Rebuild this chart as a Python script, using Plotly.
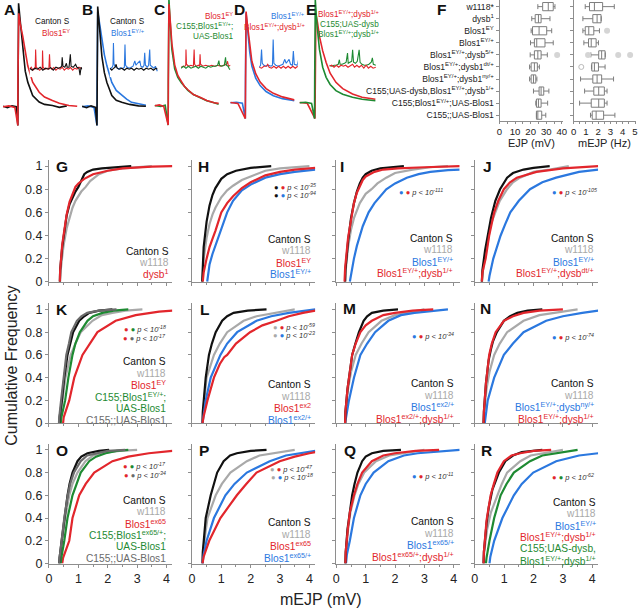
import plotly.graph_objects as go

# ====================== DATA ======================
# Panels A-E : evoked EJP traces  (time ms, mV relative to baseline)
A_CANTON = [(-10,0.2),(-7,-0.3),(-4,0.3),(-1,0),(0,-6.3),(0.1,10),(0.5,34.9),(1.6,29),(3.3,19.3),(5,12),(6.7,8.3),(10,3.8),(14.4,1.6),(18,0.8),(23.3,0.4),(28,-0.2),(33,0.3)]
A_BLOS1EY = [(-10,0),(-6,0.3),(-2,-0.2),(0,-6.3),(0.1,10),(0.6,31.5),(1.6,28),(3.3,23.8),(6.7,13.8),(10,8.3),(14.4,4.9),(18,3.3),(23.3,2.1),(28,1.2),(34.4,0.4),(40,0.2)]
B_CANTON = [(-10,0.2),(-7,-0.3),(-4,0.3),(-1,-0.2),(0,-6.3),(0.1,8),(0.5,33.8),(1.5,28),(3.3,17.1),(5,11.5),(6.7,8.2),(10,3.8),(13,2.2),(16.7,1.5),(22,0.8),(28,0.3),(33,0.2)]
B_BLOS1EYP = [(-10,0),(-6,0.3),(-2,-0.2),(0,-6.3),(0.1,8),(0.5,32),(1.5,29),(3.3,22.7),(5,17.5),(6.7,13.8),(10,8.2),(13,5.5),(16.7,3.8),(20,2.6),(23.3,1.5),(28,0.9),(33,0.5)]
C_BLOS1EY = [(-9,0),(-6,0.3),(-3,-0.2),(0,-6.5),(0.1,8),(0.5,34.3),(1.5,28),(2.5,21),(4.4,13.8),(6.5,10.2),(8.9,8.2),(11,6.5),(13.3,5.4),(17,3.8),(22.2,2.7),(26,1.8),(31,1),(34,0.8)]
C_RESCUE = [(-9,0.1),(-5,-0.2),(-2,0.2),(0,-6.5),(0.1,8),(0.5,36),(1.5,27),(2.5,19),(4.4,12.5),(6.5,9.6),(8.9,7.8),(11,6.4),(13.3,5.2),(17,3.8),(22.2,2.5),(26,1.7),(31,1),(34,0.5)]
D_BLOS1EYP = [(-10,0),(-6,0.2),(-2,-0.1),(0,-5.3),(0.1,8),(0.5,30.2),(1.5,25),(3,17),(4.4,12.4),(7,8.3),(10,5.8),(14,3.8),(18.9,2.4),(25,1.4),(32.2,0.8),(33,0.7)]
D_DOUBLE = [(-10,0.1),(-5,-0.2),(0,-5.3),(0.1,8),(0.5,30.8),(1.5,26),(3,18.5),(4.4,14),(7,9.8),(10,7),(14,4.8),(18.9,3.2),(25,2),(32.2,1.1),(33,1)]
E_DOUBLE = [(-10,0.1),(-5,-0.1),(0.3,-5.3),(0.4,8),(0.9,30),(2,27),(3.3,22.4),(5.5,17.5),(7.8,13.6),(10.5,10),(14.4,6.9),(19,4.8),(25.6,3),(32,1.9),(38.9,1.3),(41,1.2)]
E_RESCUE = [(-10,0),(-6,0.2),(-2,-0.2),(0,-5.3),(0.1,8),(0.5,34.7),(1.5,27),(3.3,18),(5.5,12),(7.8,8.6),(10.5,6.2),(14.4,4.1),(19,2.9),(25.6,1.9),(32,1.2),(38.9,0.8),(41,0.7)]

# Insets : spontaneous mEJP traces (time ms, mV)
A_CANTON_MINI = [(0,0.05),(10,-0.05),(20,0.05),(30,0),(40,0.1),(50,-0.05),(60,0.05),(70,0),(80,0.08),(90,-0.05),(100,0.1),(110,0.05),(118,0.1),(122,0.15),(124,0.6),(127,0.15),(134,0.1),(140,0.3),(143,0.1),(150,0.1),(155,0.75),(158,0.15),(166,0.1),(175,0.25),(180,0.1),(188,0.05),(192,-0.3),(196,0.1),(200,0)]
A_BLOS1EY_MINI = [(0,0),(6,0.1),(12,-0.05),(18,0.05),(21,0),(22.6,1.0),(25,0.1),(30,0.05),(38,-0.05),(46,0.05),(48,0),(49,0.95),(51,0.1),(58,0),(66,0.05),(73,0),(75.5,0.75),(78,0.1),(84,0),(92,0.08),(100,-0.05),(108,0.05),(116,0),(124,0.1),(132,-0.05),(140,0.05),(148,0),(156,0.08),(164,-0.05),(172,0.05),(180,0),(188,0.1),(196,0.05)]
B_CANTON_MINI = [(0,0.05),(8,-0.05),(16,0.05),(22,0.1),(26,0.25),(30,0.05),(40,0),(50,0.05),(60,-0.05),(70,0.05),(80,0),(90,0.05),(100,-0.05),(110,0.05),(120,0),(130,0.05),(140,-0.05),(150,0.05),(160,0),(170,0.05),(180,-0.05),(190,0.05),(196,0)]
B_BLOS1EYP_MINI = [(0,0),(6,0.05),(10,0.1),(13,0.2),(15,1.33),(17,0.3),(20,0.15),(28,0.1),(36,0),(44,0.08),(52,0.02),(60,0.1),(62.6,1.25),(65,0.2),(72,0.1),(80,0.05),(88,0.1),(96,0.15),(103,0.42),(108,0.2),(114,0.3),(120,0.35),(124,0.42),(128,0.15),(136,0.1),(141,0.2),(144,0.83),(147,0.2),(155,0.1),(160,0.2),(164.6,1.0),(167,0.2),(175,0.1),(182,0.05),(188,0.15),(196,-0.1)]
C_BLOS1EY_MINI = [(0,0),(8,0.05),(16,0.05),(19,0.1),(20,0.9),(22,0.15),(30,0.05),(40,0.1),(50,0.05),(53,0.9),(55,0.15),(62,0.05),(70,0.1),(75,0.05),(77,0.65),(79,0.15),(88,0.05),(100,0.1),(112,0.05),(124,0.1),(136,0.05),(148,0.1),(160,0.05),(172,0.1),(184,0.15),(188,0.3),(192,0.05),(200,0.1)]
C_RESCUE_MINI = [(0,-0.05),(10,0.05),(20,-0.05),(30,0.05),(40,-0.05),(50,0),(60,0.05),(70,-0.05),(80,0.05),(90,0),(100,-0.05),(110,0.05),(120,0),(130,0.05),(140,0.05),(148,0.1),(153,0.33),(156,0.1),(165,0.05),(175,0.1),(180,0.5),(183,0.1),(190,0.05),(196,-0.1),(200,-0.1)]
D_BLOS1EYP_MINI = [(0,0),(6,0.1),(10,0.9),(13,0.2),(20,0.1),(30,0.05),(40,0.1),(50,0.05),(56,0.1),(59,1.4),(62,0.2),(70,0.1),(80,0.05),(90,0.1),(100,0.15),(108,0.4),(114,0.2),(120,0.3),(126,0.4),(132,0.15),(140,0.1),(144,0.82),(148,0.15),(160,0.1),(172,0.65),(176,0.15),(186,0.05),(196,0.1),(200,0.05)]
D_DOUBLE_MINI = [(0,0),(10,-0.05),(20,0.05),(30,0.05),(36,0.15),(42,0),(52,-0.05),(62,0.05),(72,-0.05),(82,0.05),(92,-0.05),(102,0.05),(112,-0.05),(122,0.05),(132,-0.05),(142,0.05),(152,-0.05),(162,0.05),(172,-0.05),(182,0.05),(192,-0.05),(200,0.05)]
E_DOUBLE_MINI = [(0,0),(10,0.05),(20,-0.05),(30,0.05),(40,-0.05),(50,0.05),(60,0),(70,0.05),(80,-0.05),(90,0.05),(100,0.1),(108,-0.05),(118,0.05),(128,-0.05),(138,0.05),(148,-0.1),(158,0.05),(168,-0.1),(178,0),(188,-0.1),(200,-0.05)]
E_RESCUE_MINI = [(0,0.05),(10,0),(20,0.05),(30,0.05),(38,0.1),(43,0.33),(46,0.1),(55,0.1),(65,0.15),(72,0.2),(78,0.67),(81,0.15),(88,0.2),(96,0.25),(100,0.83),(104,0.2),(112,0.15),(120,0.25),(128,0.83),(132,0.2),(140,0.1),(150,0.05),(160,0.05),(170,0.1),(180,0.2),(185,0.42),(189,0.1),(195,0.05),(200,0.05)]

# Panel F : box-plot statistics (lower whisker, Q1, median, Q3, upper whisker)
GENOTYPES = ["w1118*", "dysb<sup>1</sup>", "Blos1<sup>EY</sup>", "Blos1<sup>EY/+</sup>",
             "Blos1<sup>EY/+</sup>;dysb<sup>5/+</sup>", "Blos1<sup>EY/+</sup>;dysb1<sup>dt/+</sup>",
             "Blos1<sup>EY/+</sup>;dysb1<sup>ny/+</sup>", "C155;UAS-dysb,Blos1<sup>EY/+</sup>;dysb<sup>1/+</sup>",
             "C155;Blos1<sup>EY/+</sup>;UAS-Blos1", "C155;;UAS-Blos1"]
EJP_LO  = [24.6, 20.7, 20.3, 19.9, 19.7, 19.3, 19.3, 21.8, 23.3, 23.7]
EJP_Q1  = [27.7, 22.9, 21.2, 22.4, 22.4, 20.3, 20.3, 25.4, 23.7, 23.7]
EJP_MED = [31.3, 25.0, 25.4, 23.9, 24.6, 22.4, 21.8, 26.7, 25.0, 24.6]
EJP_Q3  = [34.5, 26.7, 30.3, 29.2, 26.7, 24.3, 23.3, 28.4, 26.7, 27.1]
EJP_HI  = [35.6, 32.4, 33.5, 34.5, 30.7, 25.6, 24.0, 31.7, 30.9, 29.7]
EJP_OUT_ROW = [4]
EJP_OUT_VAL = [37.0]
HZ_LO  = [0.94, 0.75, 0.75, 0.83, 1.40, 1.45, 0.56, 0.89, 0.48, 1.37]
HZ_Q1  = [1.29, 1.56, 0.94, 1.21, 2.04, 1.48, 1.56, 1.64, 1.43, 1.51]
HZ_MED = [1.69, 1.91, 1.23, 1.43, 2.28, 1.69, 1.91, 2.04, 2.04, 1.83]
HZ_Q3  = [2.36, 2.23, 1.64, 1.83, 2.56, 2.02, 2.28, 2.50, 2.50, 2.44]
HZ_HI  = [3.31, 2.25, 2.10, 2.02, 2.58, 2.56, 3.25, 2.72, 2.72, 3.36]
HZ_OUT_ROW = [2, 4, 4, 4]
HZ_OUT_VAL = [2.72, 1.17, 3.63, 4.60]
HZ_OPEN_ROW = [5]
HZ_OPEN_VAL = [0.62]

# Panels G-R : cumulative distributions of mEJP amplitude (mV, cumulative frequency)
G_CANTON = [(0.37,0),(0.38,0.1),(0.45,0.3),(0.5,0.4),(0.6,0.57),(0.7,0.67),(0.8,0.73),(0.9,0.78),(1.0,0.82),(1.1,0.88),(1.2,0.93),(1.3,0.95),(1.5,0.97),(1.8,0.98),(2.2,0.99),(2.8,1.0)]
G_W1118 = [(0.38,0),(0.4,0.1),(0.45,0.22),(0.5,0.32),(0.6,0.46),(0.7,0.56),(0.8,0.64),(0.9,0.7),(1.0,0.74),(1.1,0.78),(1.25,0.82),(1.4,0.87),(1.7,0.93),(2.0,0.96),(2.5,0.98),(3.0,0.99),(3.5,1.0)]
G_DYSB1 = [(0.37,0),(0.38,0.1),(0.45,0.32),(0.5,0.42),(0.6,0.58),(0.7,0.69),(0.8,0.76),(0.9,0.82),(1.0,0.85),(1.2,0.89),(1.5,0.93),(2.0,0.96),(2.5,0.98),(3.0,0.99),(3.5,0.995),(4.2,1.0)]

H_CANTON = [(0.35,0),(0.36,0.1),(0.4,0.3),(0.5,0.52),(0.6,0.66),(0.7,0.75),(0.8,0.81),(1.0,0.89),(1.2,0.93),(1.5,0.96),(2.0,0.985),(2.7,1.0)]
H_W1118 = [(0.36,0),(0.4,0.2),(0.5,0.38),(0.6,0.5),(0.7,0.58),(0.8,0.64),(1.0,0.73),(1.2,0.79),(1.4,0.83),(1.7,0.88),(2.0,0.91),(2.5,0.96),(3.0,0.98),(3.5,0.99),(4.0,1.0)]
H_BLOS1EY = [(0.37,0),(0.4,0.08),(0.5,0.2),(0.6,0.3),(0.7,0.37),(0.8,0.44),(1.0,0.6),(1.2,0.68),(1.4,0.74),(1.7,0.81),(2.0,0.86),(2.5,0.92),(3.0,0.95),(3.5,0.97),(4.2,0.985)]
H_BLOS1EYP = [(0.52,0),(0.55,0.08),(0.6,0.15),(0.7,0.24),(0.8,0.31),(0.9,0.38),(1.0,0.46),(1.2,0.6),(1.4,0.7),(1.7,0.79),(2.0,0.84),(2.5,0.9),(3.0,0.93),(3.5,0.95),(4.2,0.97)]

I_CANTON = [(0.3,0),(0.31,0.1),(0.4,0.35),(0.5,0.55),(0.6,0.68),(0.7,0.78),(0.8,0.85),(0.9,0.9),(1.0,0.93),(1.2,0.96),(1.5,0.98),(2.0,0.995),(2.3,1.0)]
I_W1118 = [(0.3,0),(0.32,0.1),(0.4,0.3),(0.5,0.45),(0.6,0.55),(0.7,0.62),(0.8,0.68),(1.0,0.76),(1.2,0.8),(1.4,0.85),(1.7,0.9),(2.0,0.94),(2.6,0.97),(3.2,0.99),(3.8,1.0)]
I_BLOS1EYP = [(0.46,0),(0.5,0.07),(0.6,0.2),(0.7,0.31),(0.8,0.4),(0.9,0.48),(1.0,0.54),(1.1,0.6),(1.3,0.68),(1.5,0.74),(1.7,0.8),(2.0,0.85),(2.4,0.9),(2.8,0.93),(3.2,0.95),(3.8,0.965),(4.2,0.97)]
I_DYSB1 = [(0.28,0),(0.3,0.12),(0.4,0.38),(0.5,0.55),(0.6,0.68),(0.7,0.77),(0.8,0.83),(0.9,0.88),(1.0,0.91),(1.3,0.95),(1.6,0.97),(2.1,0.98),(3.0,0.99),(4.2,1.0)]

J_CANTON = [(0.24,0),(0.26,0.1),(0.35,0.27),(0.45,0.43),(0.55,0.55),(0.6,0.6),(0.7,0.7),(0.86,0.8),(1.1,0.9),(1.3,0.94),(1.66,0.97),(2.0,0.985),(2.55,1.0)]
J_W1118 = [(0.25,0),(0.27,0.08),(0.35,0.22),(0.45,0.38),(0.55,0.5),(0.7,0.6),(0.85,0.7),(1.1,0.8),(1.3,0.86),(1.54,0.9),(2.0,0.95),(2.55,0.97),(3.2,1.0)]
J_BLOS1EYP = [(0.47,0),(0.5,0.05),(0.63,0.2),(0.75,0.3),(0.88,0.4),(1.04,0.5),(1.21,0.6),(1.5,0.7),(1.88,0.8),(2.3,0.86),(2.77,0.9),(3.55,0.95),(4.2,0.97)]
J_DYSBDT = [(0.24,0),(0.26,0.08),(0.37,0.2),(0.49,0.4),(0.66,0.6),(0.8,0.7),(0.99,0.8),(1.2,0.86),(1.43,0.9),(1.8,0.93),(2.1,0.95),(3.0,0.98),(4.2,1.0)]

K_CANTON = [(0.35,0),(0.36,0.05),(0.44,0.2),(0.52,0.4),(0.63,0.6),(0.72,0.7),(0.82,0.8),(1.03,0.9),(1.2,0.94),(1.37,0.97),(1.7,0.99),(2.16,1.0)]
K_W1118 = [(0.36,0),(0.38,0.05),(0.46,0.2),(0.56,0.4),(0.74,0.6),(0.9,0.7),(1.08,0.8),(1.48,0.9),(1.8,0.95),(2.16,0.97),(2.6,0.99),(3.18,1.0)]
K_BLOS1EY = [(0.48,0),(0.5,0.05),(0.69,0.2),(0.86,0.4),(1.14,0.6),(1.38,0.7),(1.65,0.8),(2.27,0.9),(2.95,0.95),(3.75,0.98),(4.2,0.99)]
K_RESCUE = [(0.4,0),(0.42,0.05),(0.55,0.2),(0.66,0.4),(0.8,0.6),(0.9,0.7),(1.05,0.8),(1.31,0.9),(1.5,0.94),(1.82,0.97),(2.2,0.99),(2.7,1.0)]
K_C155 = [(0.34,0),(0.35,0.05),(0.42,0.22),(0.49,0.4),(0.59,0.6),(0.68,0.7),(0.76,0.8),(0.95,0.9),(1.1,0.94),(1.3,0.97),(1.7,0.99),(2.3,1.0)]

L_CANTON = [(0.36,0),(0.37,0.1),(0.42,0.25),(0.47,0.4),(0.58,0.6),(0.68,0.7),(0.81,0.8),(1.03,0.9),(1.2,0.94),(1.42,0.97),(1.9,0.99),(2.54,1.0)]
L_W1118 = [(0.36,0),(0.38,0.1),(0.44,0.25),(0.5,0.4),(0.75,0.6),(0.95,0.7),(1.2,0.8),(1.76,0.9),(2.2,0.94),(2.88,0.97),(3.5,1.0)]
L_EX2 = [(0.36,0),(0.4,0.06),(0.53,0.2),(0.75,0.4),(0.95,0.52),(1.1,0.58),(1.2,0.6),(1.5,0.7),(1.98,0.8),(2.4,0.86),(2.88,0.9),(3.3,0.94),(3.78,0.97),(4.2,0.99)]
L_EX2P = [(0.36,0),(0.4,0.08),(0.47,0.2),(0.64,0.4),(0.97,0.6),(1.2,0.7),(1.54,0.8),(2.2,0.9),(2.7,0.94),(3.3,0.97),(4.2,1.0)]

M_CANTON = [(0.3,0),(0.31,0.1),(0.38,0.3),(0.45,0.45),(0.54,0.6),(0.65,0.7),(0.77,0.8),(0.93,0.9),(1.05,0.94),(1.21,0.97),(1.6,0.99),(2.1,1.0)]
M_W1118 = [(0.3,0),(0.32,0.1),(0.4,0.3),(0.5,0.45),(0.66,0.6),(0.86,0.7),(1.1,0.8),(1.54,0.9),(2.0,0.95),(2.43,0.97),(3.0,1.0)]
M_EX2P = [(0.3,0),(0.35,0.08),(0.43,0.2),(0.6,0.4),(0.82,0.6),(1.05,0.7),(1.32,0.8),(1.77,0.9),(2.2,0.95),(2.66,0.97),(3.8,1.0)]
M_DOUBLE = [(0.3,0),(0.31,0.1),(0.38,0.3),(0.45,0.45),(0.54,0.6),(0.66,0.7),(0.82,0.8),(1.0,0.86),(1.21,0.9),(1.6,0.95),(2.0,0.97),(2.6,0.99),(3.3,1.0)]

N_CANTON = [(0.3,0),(0.31,0.1),(0.38,0.35),(0.47,0.55),(0.55,0.65),(0.62,0.72),(0.75,0.8),(0.99,0.9),(1.2,0.94),(1.45,0.97),(1.8,0.99),(2.3,1.0)]
N_W1118 = [(0.3,0),(0.32,0.1),(0.4,0.3),(0.5,0.45),(0.66,0.6),(0.85,0.7),(1.1,0.8),(1.66,0.9),(2.2,0.95),(2.77,0.97),(3.5,1.0)]
N_DYSBNY = [(0.34,0),(0.37,0.08),(0.44,0.2),(0.66,0.4),(0.99,0.6),(1.3,0.7),(1.66,0.8),(2.43,0.9),(3.0,0.94),(3.66,0.97),(4.2,0.99)]
N_DOUBLE = [(0.3,0),(0.31,0.1),(0.38,0.35),(0.49,0.6),(0.58,0.7),(0.71,0.8),(0.99,0.9),(1.3,0.94),(1.66,0.97),(2.2,0.99),(3.0,1.0)]

O_CANTON = [(0.35,0),(0.36,0.05),(0.43,0.2),(0.52,0.4),(0.63,0.6),(0.7,0.7),(0.8,0.8),(0.97,0.9),(1.1,0.94),(1.31,0.97),(1.7,0.99),(2.05,1.0)]
O_W1118 = [(0.36,0),(0.37,0.05),(0.45,0.2),(0.55,0.4),(0.69,0.6),(0.8,0.7),(0.97,0.8),(1.24,0.9),(1.5,0.95),(1.8,0.97),(2.4,0.99),(3.0,1.0)]
O_EX65 = [(0.45,0),(0.48,0.05),(0.69,0.2),(0.8,0.4),(1.03,0.6),(1.25,0.7),(1.54,0.8),(2.16,0.9),(2.7,0.94),(3.4,0.97),(4.2,0.99)]
O_RESCUE = [(0.4,0),(0.42,0.05),(0.52,0.2),(0.63,0.4),(0.8,0.6),(0.93,0.7),(1.08,0.8),(1.37,0.9),(1.6,0.94),(1.93,0.97),(2.3,0.99),(2.7,1.0)]
O_C155 = [(0.35,0),(0.36,0.05),(0.43,0.2),(0.52,0.4),(0.64,0.6),(0.72,0.7),(0.85,0.8),(1.08,0.9),(1.3,0.95),(1.6,0.97),(2.0,0.99),(2.6,1.0)]

P_CANTON = [(0.36,0),(0.37,0.1),(0.42,0.25),(0.47,0.4),(0.64,0.6),(0.74,0.7),(0.86,0.8),(1.08,0.9),(1.3,0.95),(1.53,0.97),(2.0,0.99),(2.54,1.0)]
P_W1118 = [(0.36,0),(0.38,0.1),(0.45,0.25),(0.53,0.4),(0.81,0.6),(1.02,0.7),(1.31,0.8),(1.87,0.9),(2.3,0.95),(2.77,0.97),(3.5,1.0)]
P_EX65 = [(0.36,0),(0.4,0.06),(0.59,0.2),(0.97,0.4),(1.25,0.5),(1.53,0.6),(1.85,0.7),(2.2,0.8),(2.99,0.9),(3.5,0.94),(4.0,0.97),(4.2,0.98)]
P_EX65P = [(0.36,0),(0.4,0.08),(0.5,0.2),(0.75,0.4),(1.14,0.6),(1.45,0.7),(1.87,0.8),(2.65,0.9),(3.2,0.95),(3.66,0.97),(4.2,0.99)]

Q_CANTON = [(0.31,0),(0.32,0.1),(0.38,0.3),(0.45,0.45),(0.54,0.6),(0.62,0.7),(0.72,0.8),(0.88,0.9),(1.0,0.94),(1.21,0.97),(1.6,0.99),(2.2,1.0)]
Q_W1118 = [(0.31,0),(0.33,0.1),(0.4,0.3),(0.48,0.45),(0.62,0.6),(0.75,0.7),(0.95,0.8),(1.35,0.9),(1.8,0.95),(2.3,0.97),(3.0,1.0)]
Q_EX65P = [(0.33,0),(0.36,0.08),(0.46,0.2),(0.6,0.4),(0.82,0.6),(1.0,0.7),(1.27,0.8),(1.77,0.9),(2.3,0.95),(2.77,0.97),(4.2,1.0)]
Q_DOUBLE = [(0.31,0),(0.32,0.1),(0.39,0.3),(0.46,0.45),(0.6,0.6),(0.72,0.7),(0.88,0.8),(1.21,0.9),(1.6,0.95),(1.99,0.97),(2.7,0.99),(3.5,1.0)]

R_CANTON = [(0.3,0),(0.31,0.1),(0.4,0.35),(0.48,0.5),(0.6,0.65),(0.82,0.8),(1.04,0.9),(1.3,0.95),(1.6,0.98),(2.3,1.0)]
R_W1118 = [(0.3,0),(0.32,0.1),(0.42,0.3),(0.55,0.45),(0.77,0.6),(0.92,0.7),(1.1,0.8),(1.55,0.9),(1.9,0.95),(2.32,0.97),(3.0,1.0)]
R_BLOS1EYP = [(0.5,0),(0.53,0.06),(0.66,0.2),(0.94,0.4),(1.33,0.6),(1.6,0.7),(1.99,0.8),(2.77,0.9),(3.55,0.95),(4.2,0.97)]
R_DOUBLE = [(0.3,0),(0.31,0.1),(0.4,0.38),(0.54,0.6),(0.65,0.7),(0.77,0.8),(0.99,0.9),(1.25,0.95),(1.55,0.97),(2.0,0.99),(2.6,1.0)]
R_RESCUE = [(0.38,0),(0.4,0.05),(0.5,0.2),(0.66,0.4),(0.88,0.6),(1.08,0.7),(1.33,0.8),(1.88,0.9),(2.3,0.95),(2.77,0.97),(3.5,1.0)]

CDF_TICKS = [0, 1, 2, 3, 4]
FREQ_TICKS = [0, 0.2, 0.4, 0.6, 0.8, 1]

# ====================== STYLE ======================
W, H = 640, 615
BLACK = "#111111"; GRAY = "#a9a9a9"; RED = "#e2262c"; BLUE = "#2b78df"; GREEN = "#1e8a32"; DGRAY = "#6a6a6a"
AXC = "#8e8e8e"
FONT = "Liberation Sans, Arial, sans-serif"

fig = go.Figure()
lay = dict(width=W, height=H, margin=dict(l=0, r=0, t=0, b=0), paper_bgcolor="white",
           plot_bgcolor="white", showlegend=False, hovermode=False,
           font=dict(family=FONT, color="#222222"))
ann = []
n_axes = [0]


def clamp(v):
    return max(0.0, min(1.0, v))


def add_axes(xpx, ypx, xopt, yopt):
    n_axes[0] += 1
    s = "" if n_axes[0] == 1 else str(n_axes[0])
    xo = dict(domain=[clamp(xpx[0] / W), clamp(xpx[1] / W)], anchor="y" + s, showgrid=False, zeroline=False)
    xo.update(xopt)
    yo = dict(domain=[clamp(1 - ypx[1] / H), clamp(1 - ypx[0] / H)], anchor="x" + s, showgrid=False, zeroline=False)
    yo.update(yopt)
    lay["xaxis" + s] = xo
    lay["yaxis" + s] = yo
    return "x" + s, "y" + s


def line(pts, xa, ya, color, width):
    xs = [p[0] for p in pts]
    ys = [p[1] for p in pts]
    fig.add_trace(go.Scatter(x=xs, y=ys, xaxis=xa, yaxis=ya, mode="lines",
                             line=dict(color=color, width=width), hoverinfo="skip"))


def text(s, xpx, ypx, size, color="#222222", xanchor="center", bold=False, align="center", angle=0):
    ann.append(dict(text=("<b>%s</b>" % s) if bold else s, x=xpx / W, y=1 - ypx / H, xref="paper", yref="paper",
                    showarrow=False, xanchor=xanchor, yanchor="middle", align=align, textangle=angle,
                    font=dict(size=size, color=color, family=FONT)))


HIDDEN = dict(visible=False, fixedrange=True)

# ---------- A-E traces ----------
TRACE_PANELS = [
    (0, 78, 15, 108, [(A_CANTON, BLACK), (A_BLOS1EY, RED)], (27, 80, 70),
     [(A_BLOS1EY_MINI, RED), (A_CANTON_MINI, BLACK)]),
    (78, 152, 95, 108, [(B_BLOS1EYP, BLUE), (B_CANTON, BLACK)], (108, 157, 70),
     [(B_BLOS1EYP_MINI, BLUE), (B_CANTON_MINI, BLACK)]),
    (152, 228, 167, 107, [(C_RESCUE, GREEN), (C_BLOS1EY, RED)], (180, 230, 68),
     [(C_BLOS1EY_MINI, RED), (C_RESCUE_MINI, GREEN)]),
    (228, 305, 245, 104, [(D_BLOS1EYP, BLUE), (D_DOUBLE, RED)], (259, 307, 68),
     [(D_BLOS1EYP_MINI, BLUE), (D_DOUBLE_MINI, RED)]),
    (298, 380, 315, 104, [(E_DOUBLE, RED), (E_RESCUE, GREEN)], (330, 377, 67),
     [(E_RESCUE_MINI, GREEN), (E_DOUBLE_MINI, RED)]),
]
T_PX_PER_MS = 1.5
V_PX_PER_MV = 3.0
for x0, x1, sp, base, traces, mini, minis in TRACE_PANELS:
    xa, ya = add_axes((x0, x1), (0, 130),
                      dict(HIDDEN, range=[(x0 - sp) / T_PX_PER_MS, (x1 - sp) / T_PX_PER_MS]),
                      dict(HIDDEN, range=[-(130 - base) / V_PX_PER_MV, base / V_PX_PER_MV]))
    for pts, c in traces:
        line(pts, xa, ya, c, 1.6)
    mx0, mx1, mb = mini
    xa, ya = add_axes((mx0, mx1), (mb - 32, mb + 8), dict(HIDDEN, range=[0, 200]), dict(HIDDEN, range=[-0.4, 1.6]))
    for pts, c in minis:
        line(pts, xa, ya, c, 1.1)

TOP_LABELS = [
    ("Canton S", 70, 22, BLACK), ("Blos1<sup>EY</sup>", 70, 33, RED),
    ("Canton S", 146, 22, BLACK), ("Blos1<sup>EY/+</sup>", 146, 33, BLUE),
    ("Blos1<sup>EY</sup>", 235, 16, RED), ("C155;Blos1<sup>EY/+</sup>;", 235, 26.5, GREEN), ("UAS-Blos1", 235, 37, GREEN),
    ("Blos1<sup>EY/+</sup>", 307, 16, BLUE), ("Blos1<sup>EY/+</sup>;dysb<sup>1/+</sup>", 307, 27, RED),
    ("Blos1<sup>EY/+</sup>;dysb<sup>1/+</sup>", 382, 14.5, RED), ("C155;UAS-dysb", 382, 24.5, GREEN),
    ("Blos1<sup>EY/+</sup>;dysb<sup>1/+</sup>", 382, 34, GREEN),
]
for s, xr, yc, c in TOP_LABELS:
    text(s, xr, yc, 8.2, c, xanchor="right", align="right")

# ---------- F box plots ----------
ROWS = list(range(len(GENOTYPES)))
BOX_Y = [-0.55, 9.45]
box_y_opts = dict(range=[BOX_Y[1], BOX_Y[0]], showline=True, linecolor=AXC, linewidth=1, ticks="outside",
                  ticklen=3, tickcolor=AXC, fixedrange=True)
box_x_common = dict(showline=True, linecolor=AXC, linewidth=1, ticks="outside", ticklen=2, tickcolor=AXC,
                    tickfont=dict(size=9.6, color="#222"), fixedrange=True)
xa, ya = add_axes((502, 566), (0, 122),
                  dict(box_x_common, range=[0, 64 / 1.575], tickvals=[0, 10, 20, 30, 40],
                       minor=dict(dtick=5, ticks="outside", ticklen=2, tickcolor=AXC)),
                  dict(box_y_opts, tickvals=ROWS, ticktext=GENOTYPES, tickfont=dict(size=8.6, color="#222")))
fig.add_trace(go.Box(y=ROWS, q1=EJP_Q1, median=EJP_MED, q3=EJP_Q3, lowerfence=EJP_LO, upperfence=EJP_HI,
                     orientation="h", xaxis=xa, yaxis=ya, width=0.68, whiskerwidth=0.6, boxpoints=False,
                     line=dict(color="#7d7d7d", width=1), fillcolor="white", hoverinfo="skip"))
fig.add_trace(go.Scatter(x=EJP_OUT_VAL, y=EJP_OUT_ROW, xaxis=xa, yaxis=ya, mode="markers",
                         marker=dict(size=6, color="#d5d5d5"), hoverinfo="skip"))
xa, ya = add_axes((577, 640), (0, 122),
                  dict(box_x_common, range=[0, 63 / 12.4], tickvals=[0, 1, 2, 3, 4, 5],
                       minor=dict(dtick=0.5, ticks="outside", ticklen=2, tickcolor=AXC)),
                  dict(box_y_opts, tickvals=ROWS, showticklabels=False))
fig.add_trace(go.Box(y=ROWS, q1=HZ_Q1, median=HZ_MED, q3=HZ_Q3, lowerfence=HZ_LO, upperfence=HZ_HI,
                     orientation="h", xaxis=xa, yaxis=ya, width=0.68, whiskerwidth=0.6, boxpoints=False,
                     line=dict(color="#7d7d7d", width=1), fillcolor="white", hoverinfo="skip"))
fig.add_trace(go.Scatter(x=HZ_OUT_VAL, y=HZ_OUT_ROW, xaxis=xa, yaxis=ya, mode="markers",
                         marker=dict(size=6, color="#d5d5d5"), hoverinfo="skip"))
fig.add_trace(go.Scatter(x=HZ_OPEN_VAL, y=HZ_OPEN_ROW, xaxis=xa, yaxis=ya, mode="markers",
                         marker=dict(size=5, color="white", line=dict(color="#bbbbbb", width=1)), hoverinfo="skip"))
text("EJP (mV)", 534, 145, 11)
text("mEJP (Hz)", 608, 145, 11)

# ---------- G-R cumulative plots ----------
COL_X0 = [46.5, 191, 337, 477]
PX_PER_MV = 29.7
ROW_Y0 = [285, 428, 570]
ROW_SCALE = [117, 115, 115]
FMAX = 1.055


def dots(colors):
    return "".join("<span style='color:%s'>●</span> " % c for c in colors)


CDF_PANELS = [
    ("G", 0, 0, [(G_W1118, GRAY), (G_CANTON, BLACK), (G_DYSB1, RED)],
     [("Canton S", BLACK), ("w1118", GRAY), ("dysb<sup>1</sup>", RED)], 170, 254, []),
    ("H", 1, 0, [(H_W1118, GRAY), (H_CANTON, BLACK), (H_BLOS1EYP, BLUE), (H_BLOS1EY, RED)],
     [("Canton S", BLACK), ("w1118", GRAY), ("Blos1<sup>EY</sup>", RED), ("Blos1<sup>EY/+</sup>", BLUE)], 313, 242,
     [((BLACK, RED), "-35", 318, 189), ((BLACK, BLUE), "-94", 318, 197)]),
    ("I", 2, 0, [(I_W1118, GRAY), (I_CANTON, BLACK), (I_BLOS1EYP, BLUE), (I_DYSB1, RED)],
     [("Canton S", BLACK), ("w1118", GRAY), ("Blos1<sup>EY/+</sup>", BLUE), ("Blos1<sup>EY/+</sup>;dysb<sup>1/+</sup>", RED)],
     457, 241, [((BLUE, RED), "-111", 447, 194)]),
    ("J", 3, 0, [(J_W1118, GRAY), (J_CANTON, BLACK), (J_BLOS1EYP, BLUE), (J_DYSBDT, RED)],
     [("Canton S", BLACK), ("w1118", GRAY), ("Blos1<sup>EY/+</sup>", BLUE), ("Blos1<sup>EY/+</sup>;dysb<sup>dt/+</sup>", RED)],
     600, 241, [((BLUE, RED), "-105", 603, 194)]),
    ("K", 0, 1, [(K_W1118, GRAY), (K_BLOS1EY, RED), (K_RESCUE, GREEN), (K_CANTON, BLACK), (K_C155, DGRAY)],
     [("Canton S", BLACK), ("w1118", GRAY), ("Blos1<sup>EY</sup>", RED), ("C155;Blos1<sup>EY/+</sup>;", GREEN),
      ("UAS-Blos1", GREEN), ("C155;;UAS-Blos1", DGRAY)], 167, 366,
     [((RED, GREEN), "-18", 167, 333), ((RED, DGRAY), "-17", 167, 342)]),
    ("L", 1, 1, [(L_W1118, GRAY), (L_CANTON, BLACK), (L_EX2P, BLUE), (L_EX2, RED)],
     [("Canton S", BLACK), ("w1118", GRAY), ("Blos1<sup>ex2</sup>", RED), ("Blos1<sup>ex2/+</sup>", BLUE)], 313, 389,
     [((GRAY, RED), "-59", 317, 331), ((GRAY, BLUE), "-23", 317, 339)]),
    ("M", 2, 1, [(M_W1118, GRAY), (M_EX2P, BLUE), (M_CANTON, BLACK), (M_DOUBLE, RED)],
     [("Canton S", BLACK), ("w1118", GRAY), ("Blos1<sup>ex2/+</sup>", BLUE), ("Blos1<sup>ex2/+</sup>;dysb<sup>1/+</sup>", RED)],
     458, 388, [((BLUE, RED), "-34", 458, 340)]),
    ("N", 3, 1, [(N_W1118, GRAY), (N_DYSBNY, BLUE), (N_CANTON, BLACK), (N_DOUBLE, RED)],
     [("Canton S", BLACK), ("w1118", GRAY), ("Blos1<sup>EY/+</sup>;dysb<sup>ny/+</sup>", BLUE),
      ("Blos1<sup>EY/+</sup>;dysb<sup>1/+</sup>", RED)], 600, 388, [((BLUE, RED), "-74", 600, 341)]),
    ("O", 0, 2, [(O_W1118, GRAY), (O_EX65, RED), (O_RESCUE, GREEN), (O_CANTON, BLACK), (O_C155, DGRAY)],
     [("Canton S", BLACK), ("w1118", GRAY), ("Blos1<sup>ex65</sup>", RED), ("C155;Blos1<sup>ex65/+</sup>;", GREEN),
      ("UAS-Blos1", GREEN), ("C155;;UAS-Blos1", DGRAY)], 167, 506,
     [((RED, GREEN), "-17", 167, 471), ((RED, DGRAY), "-34", 167, 480)]),
    ("P", 1, 2, [(P_W1118, GRAY), (P_CANTON, BLACK), (P_EX65P, BLUE), (P_EX65, RED)],
     [("Canton S", BLACK), ("w1118", GRAY), ("Blos1<sup>ex65</sup>", RED), ("Blos1<sup>ex65/+</sup>", BLUE)], 313, 529,
     [((GRAY, RED), "-47", 315, 474), ((GRAY, BLUE), "-18", 315, 482)]),
    ("Q", 2, 2, [(Q_W1118, GRAY), (Q_EX65P, BLUE), (Q_CANTON, BLACK), (Q_DOUBLE, RED)],
     [("Canton S", BLACK), ("w1118", GRAY), ("Blos1<sup>ex65/+</sup>", BLUE), ("Blos1<sup>ex65/+</sup>;dysb<sup>1/+</sup>", RED)],
     458, 528, [((BLUE, RED), "-11", 458, 481)]),
    ("R", 3, 2, [(R_W1118, GRAY), (R_BLOS1EYP, BLUE), (R_RESCUE, GREEN), (R_CANTON, BLACK), (R_DOUBLE, RED)],
     [("Canton S", BLACK), ("w1118", GRAY), ("Blos1<sup>EY/+</sup>", BLUE), ("Blos1<sup>EY/+</sup>;dysb<sup>1/+</sup>", RED),
      ("C155;UAS-dysb,", GREEN), ("Blos1<sup>EY/+</sup>;dysb<sup>1/+</sup>", GREEN)], 602, 508,
     [((RED, GREEN), "-62", 600, 482)]),
]
LETTER_POS = {"G": (60, 168), "H": (203, 168), "I": (343, 168), "J": (490, 168),
              "K": (60, 313), "L": (204, 313), "M": (350, 312), "N": (488, 312),
              "O": (60, 456), "P": (203, 456), "Q": (351, 456), "R": (489, 456)}

for letter, col, row, curves, legend, lx, ly, pvals in CDF_PANELS:
    x0 = COL_X0[col]
    y0 = ROW_Y0[row]
    sc = ROW_SCALE[row]
    xa, ya = add_axes((x0, x0 + 4.2 * PX_PER_MV), (y0 - FMAX * sc, y0),
                      dict(range=[0, 4.2], showline=True, linecolor=AXC, linewidth=1, ticks="outside", ticklen=3,
                           tickcolor=AXC, tickvals=CDF_TICKS, showticklabels=(row == 2),
                           tickfont=dict(size=12.5, color="#222"),
                           minor=dict(dtick=0.5, ticks="outside", ticklen=2, tickcolor=AXC), fixedrange=True),
                      dict(range=[0, FMAX], showline=True, linecolor=AXC, linewidth=1, ticks="outside", ticklen=3,
                           tickcolor=AXC, tickvals=FREQ_TICKS, showticklabels=(col == 0),
                           tickfont=dict(size=12.5, color="#222"), fixedrange=True))
    for pts, c in curves:
        line(pts, xa, ya, c, 2.2)
    for i, (s, c) in enumerate(legend):
        text(s, lx, ly + i * 11.8, 10.2, c, xanchor="right", align="right")
    for cols, expo, px, py in pvals:
        text(dots(cols) + "<i>p</i> <i>&lt; 10<sup>%s</sup></i>" % expo, px, py, 7.5, "#333333",
             xanchor="right", align="right")

# ---------- panel letters & titles ----------
for s, (cx, cy) in LETTER_POS.items():
    text(s, cx, cy, 15.5, "#111111", bold=True)
for s, cx, cy in [("A", 7, 10), ("B", 85, 10), ("C", 158, 10), ("D", 239, 10), ("E", 311, 10), ("F", 443, 10)]:
    text(s, cx, cy, 15.5, "#111111", bold=True)
text("Cumulative Frequency", 9, 370, 16, "#222222", angle=-90)
text("mEJP (mV)", 321, 606, 16, "#222222")

lay["annotations"] = ann
fig.update_layout(**lay)
fig.write_html("out.html", config={"displayModeBar": False, "staticPlot": True},
               post_script="document.body.style.margin='0';document.body.style.padding='0';"
                           "document.body.style.overflow='hidden';")
